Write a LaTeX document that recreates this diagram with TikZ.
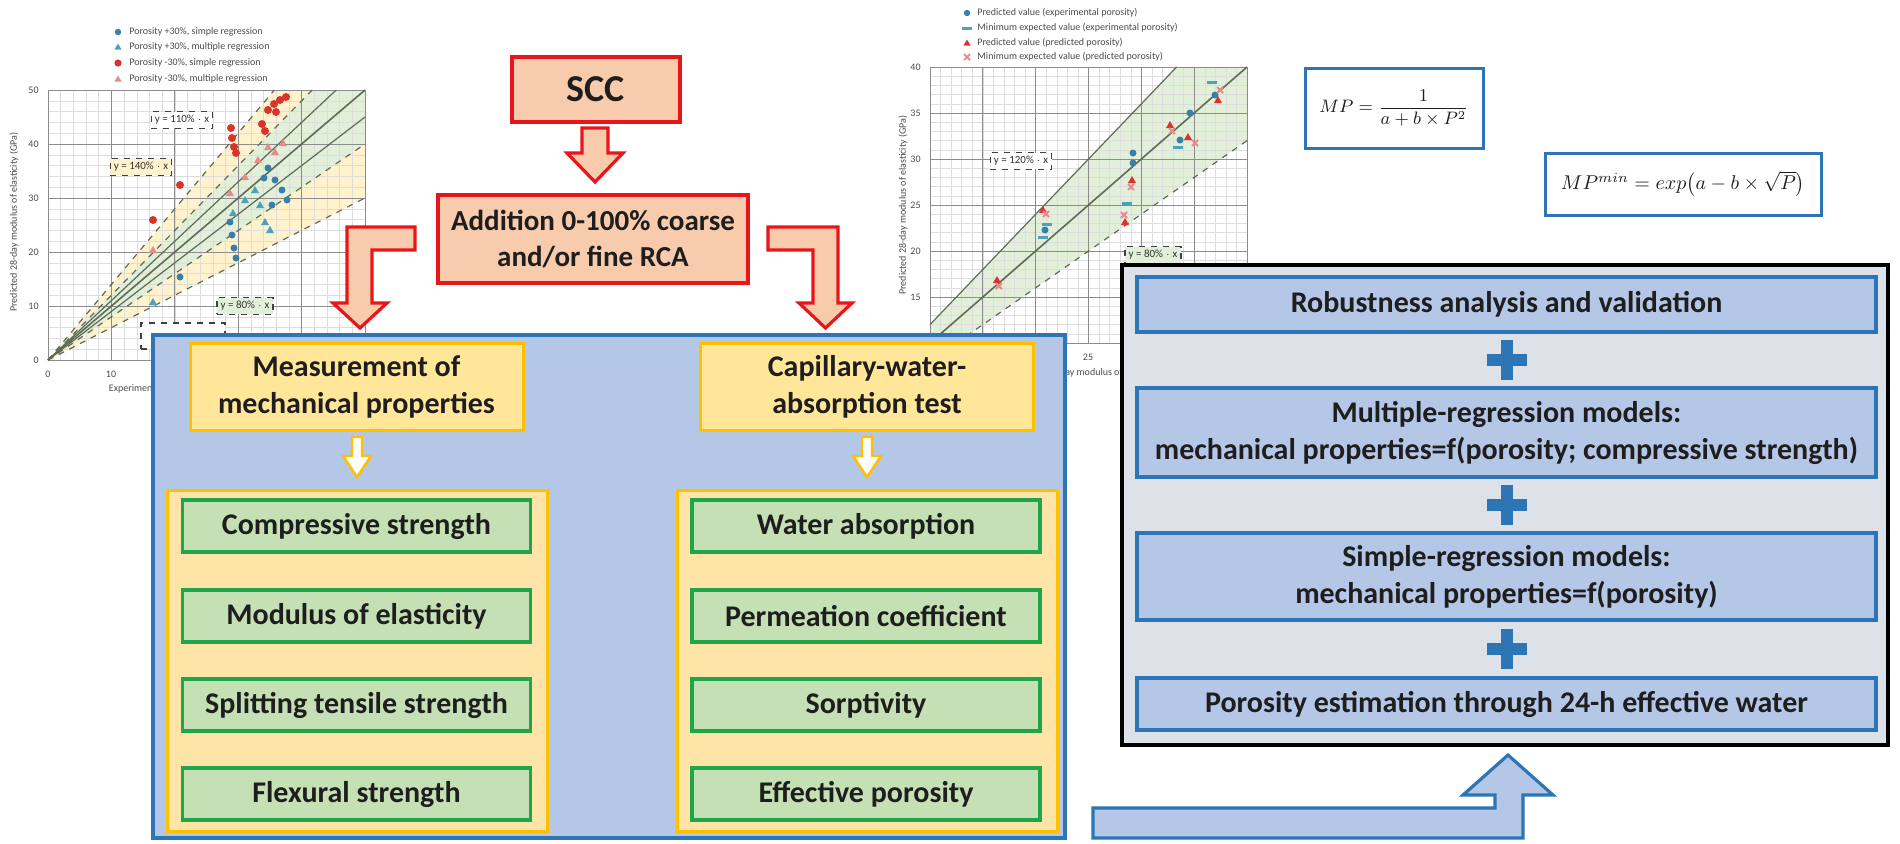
\documentclass[tikz,border=0pt]{standalone}
\usepackage{fontspec}
\usepackage{amsmath}
\setmainfont{Carlito}
\definecolor{rd}{HTML}{E8161B}
\definecolor{salmon}{HTML}{F8CBAD}
\definecolor{pblue}{HTML}{B4C7E7}
\definecolor{bblue}{HTML}{2E75B6}
\definecolor{yfill}{HTML}{FFE699}
\definecolor{ycontc}{HTML}{FFE4A8}
\definecolor{yborder}{HTML}{FFC000}
\definecolor{gfill}{HTML}{C5E0B4}
\definecolor{gborder}{HTML}{1FA64A}
\definecolor{greyp}{HTML}{DDE1E8}
\definecolor{txt}{HTML}{1E1E1E}
\definecolor{gminor}{HTML}{DDDDDD}
\definecolor{gmajor}{HTML}{8C8C8C}
\definecolor{bandy}{HTML}{FFF2CC}
\definecolor{bandg}{HTML}{E2F0D9}
\definecolor{ptblue}{HTML}{3A7FA8}
\definecolor{ptred}{HTML}{D9342B}
\definecolor{ptpink}{HTML}{E88A8A}
\definecolor{ptteal}{HTML}{4BA3B5}
\definecolor{lnc}{HTML}{5E6B55}
\tikzset{
  redbox/.style={draw=rd, fill=salmon, line width=2pt, inner sep=0pt, align=center, text=txt, font=\bfseries\fontsize{14.5}{18}\selectfont},
  bluepanel/.style={draw=bblue, fill=pblue, line width=2pt, inner sep=0pt},
  yhead/.style={draw=yborder, fill=yfill, line width=1.5pt, inner sep=0pt, align=center, text=txt, minimum width=166.5pt, minimum height=43.5pt, font=\bfseries\fontsize{15}{18.5}\selectfont},
  ycont/.style={draw=yborder, fill=ycontc, line width=1.5pt, inner sep=0pt, minimum width=190pt, minimum height=170.5pt},
  gbox/.style={draw=gborder, fill=gfill, line width=1.6pt, inner sep=0pt, text=txt, minimum width=174pt, minimum height=26pt, font=\bfseries\fontsize{15}{18}\selectfont},
  blackpanel/.style={draw=black, fill=greyp, line width=2pt, inner sep=0pt},
  rbox/.style={draw=bblue, fill=pblue, line width=1.8pt, inner sep=0pt, minimum width=369.5pt, align=center, text=txt, font=\bfseries\fontsize{15}{18.5}\selectfont},
  fbox/.style={draw=bblue, fill=white, line width=1.5pt, inner sep=0pt, text=txt},
  blockred/.style={draw=rd, fill=salmon, line width=1.6pt, line join=miter},
  blockyel/.style={draw=yborder, fill=white, line width=1.2pt},
  blockblue/.style={draw=bblue, fill=pblue, line width=1.6pt},
  tiny/.style={font=\fontsize{5}{6}\selectfont, text=black!70, inner sep=0.5pt},
  lbl/.style={draw=black!75, dashed, line width=0.6pt, font=\fontsize{5.5}{6.5}\selectfont, inner sep=1.8pt, text=black!80},
  minorline/.style={gminor, line width=0.25pt},
  majorline/.style={gmajor, line width=0.45pt},
  solidfit/.style={lnc, line width=0.6pt},
  dashfit/.style={lnc, line width=0.6pt, dashed},
}
\begin{document}
\begin{tikzpicture}[x=0.5pt,y=-0.5pt]
\useasboundingbox (0,0) rectangle (1900,843);
\fill[white] (0,0) rectangle (1900,843);

% ================= left chart =================
\fill[bandy] (48,360) -- (274.4,90) -- (365,90) -- (365,198) -- cycle;
\fill[bandg] (48,360) -- (312.2,90) -- (365,90) -- (365,144) -- cycle;
\foreach \i in {0,...,25} {\draw[minorline] ({48+12.68*\i},90) -- ({48+12.68*\i},360);}
\foreach \j in {0,...,25} {\draw[minorline] (48,{90+10.8*\j}) -- (365,{90+10.8*\j});}
\foreach \i in {0,...,5} {\draw[majorline] ({48+63.4*\i},90) -- ({48+63.4*\i},360);}
\foreach \j in {0,...,5} {\draw[majorline] (48,{90+54*\j}) -- (365,{90+54*\j});}
\draw[dashfit] (48,360) -- (274.4,90);
\draw[dashfit] (48,360) -- (312.2,90);
\draw[solidfit] (48,360) -- (336.2,90);
\draw[solidfit, line width=0.8pt] (48,360) -- (365,90);
\draw[solidfit] (48,360) -- (365,117);
\draw[dashfit] (48,360) -- (365,144);
\draw[dashfit] (48,360) -- (365,198);
% points
\foreach \x/\y in {153/220,180/185,232/138,234/147,236/153,231/128,262/124,265/131,268/110,274/104,280/100,286/97,276/112}
  {\fill[ptred] (\x,\y) circle (4);}
\foreach \x/\y in {153/250,230/193,268/147,275/152,283/143,258/160,245/177}
  {\fill[ptpink] (\x,\y) ++(0,-4) -- ++(4,7) -- ++(-8,0) -- cycle;}
\foreach \x/\y in {180/277,230/222,232/235,234/248,236/258,268/168,275/180,282/190,287/200,272/205,264/178}
  {\fill[ptblue] (\x,\y) circle (3.5);}
\foreach \x/\y in {153/302,233/213,255/190,260/205,265/222,270/230,245/200}
  {\fill[ptteal] (\x,\y) ++(0,-4) -- ++(4,7) -- ++(-8,0) -- cycle;}
% labels
\node[lbl, fill=white] (l110) at (182,120) {y = 110\% $\cdot$ x};
\node[lbl, fill=bandy] (l140) at (141,167) {y = 140\% $\cdot$ x};
\node[lbl, fill=bandg] (l80) at (245,306) {y = 80\% $\cdot$ x};
\node[lbl, fill=white, minimum width=42pt, minimum height=13pt] (l60) at (183,336) {};
% ticks and axis titles
\foreach \v/\yy in {50/90,40/144,30/198,20/252,10/306,0/360}
  {\node[tiny, anchor=east] (lt\v) at (40,\yy) {\v};}
\node[tiny] (lx0) at (48,374) {0};
\node[tiny] (lx10) at (111,374) {10};
\node[tiny] (lxt) at (206,389) {Experimental 28-day modulus of elasticity (GPa)};
\node[tiny, rotate=90] (lyt) at (14,222) {Predicted 28-day modulus of elasticity (GPa)};
% legend
\fill[ptblue] (118,32) circle (3.2);
\fill[ptteal] (118,47) ++(0,-3.5) -- ++(3.5,6) -- ++(-7,0) -- cycle;
\fill[ptred] (118,63) circle (3.6);
\fill[ptpink] (118,79) ++(0,-3.5) -- ++(3.5,6) -- ++(-7,0) -- cycle;
\node[tiny, anchor=west] (lg1) at (128,32) {Porosity +30\%, simple regression};
\node[tiny, anchor=west] (lg2) at (128,47) {Porosity +30\%, multiple regression};
\node[tiny, anchor=west] (lg3) at (128,63) {Porosity -30\%, simple regression};
\node[tiny, anchor=west] (lg4) at (128,79) {Porosity -30\%, multiple regression};

% ================= right chart =================
\fill[bandg] (930,324.6) -- (1176.6,67) -- (1247,67) -- (1247,140.6) -- (956.4,343) -- (930,343) -- cycle;
\foreach \i in {0,...,30} {\draw[minorline] ({930+10.567*\i},67) -- ({930+10.567*\i},343);}
\foreach \j in {0,...,30} {\draw[minorline] (930,{67+9.2*\j}) -- (1247,{67+9.2*\j});}
\foreach \i in {0,...,6} {\draw[majorline] ({930+52.83*\i},67) -- ({930+52.83*\i},343);}
\foreach \j in {0,...,6} {\draw[majorline] (930,{67+46*\j}) -- (1247,{67+46*\j});}
\draw[solidfit] (930,324.6) -- (1176.6,67);
\draw[solidfit, line width=0.8pt] (930,343) -- (1247,67);
\draw[dashfit] (956.4,343) -- (1247,140.6);
\foreach \x/\y in {1045/230,1133/153,1133/163,1190/113,1180/140,1215/95}
  {\fill[ptblue] (\x,\y) circle (3.5);}
\foreach \x/\y in {1043/237,1127/203,1178/147,1047/224,1212/82}
  {\fill[ptteal] (\x-5,\y-1.5) rectangle (\x+5,\y+1.5);}
\foreach \x/\y in {997/280,1043/210,1132/180,1125/222,1170/125,1188/137,1218/100}
  {\fill[ptred] (\x,\y) ++(0,-4) -- ++(4,7) -- ++(-8,0) -- cycle;}
\foreach \x/\y in {999/286,1046/214,1131/187,1172/131,1195/143,1220/90,1124/215}
  {\draw[ptpink, line width=1pt] (\x-3,\y-3) -- (\x+3,\y+3) (\x-3,\y+3) -- (\x+3,\y-3);}
\node[lbl, fill=white] (r120) at (1021,161) {y = 120\% $\cdot$ x};
\node[lbl, fill=bandg] (r80) at (1153,255) {y = 80\% $\cdot$ x};
\foreach \v/\yy in {40/67,35/113,30/159,25/205,20/251,15/297}
  {\node[tiny, anchor=east] (rt\v) at (922,\yy) {\v};}
\node[tiny] (rx25) at (1088,357) {25};
\node[tiny] (rxt) at (1088,373) {Experimental 28-day modulus of elasticity (GPa)};
\node[tiny, rotate=90] (ryt) at (903,205) {Predicted 28-day modulus of elasticity (GPa)};
\fill[ptblue] (967,13) circle (3.2);
\fill[ptteal] (962,26.5) rectangle (972,29.5);
\fill[ptred] (967,43) ++(0,-3.5) -- ++(3.5,6) -- ++(-7,0) -- cycle;
\draw[ptpink, line width=0.9pt] (964,54) -- (970,60) (964,60) -- (970,54);
\node[tiny, anchor=west] (rg1) at (976,13) {Predicted value (experimental porosity)};
\node[tiny, anchor=west] (rg2) at (976,28) {Minimum expected value (experimental porosity)};
\node[tiny, anchor=west] (rg3) at (976,43) {Predicted value (predicted porosity)};
\node[tiny, anchor=west] (rg4) at (976,57) {Minimum expected value (predicted porosity)};

% ================= formulas =================
\node[fbox, minimum width=89pt, minimum height=40pt, font=\fontsize{9}{11}\selectfont] (fm1) at (1394,108) {$MP=\dfrac{1}{a+b\times P^{2}}$};
\node[fbox, minimum width=138pt, minimum height=31pt, font=\fontsize{10}{12}\selectfont] (fm2) at (1683,184) {$MP^{min}=exp\bigl(a-b\times\sqrt{P}\bigr)$};

% ================= red flow =================
\node[redbox, minimum width=84pt, minimum height=32.5pt, font=\bfseries\fontsize{19}{22}\selectfont] (scc) at (596,89.5) {SCC};
\node[redbox, minimum width=155pt, minimum height=44pt] (add) at (593,239) {Addition 0-100\% coarse\\and/or fine RCA};
\draw[blockred] (582,128) -- (608,128) -- (608,153) -- (623,153) -- (595,182) -- (567,153) -- (582,153) -- cycle;
\draw[blockred] (415,227) -- (347,227) -- (347,303) -- (333,303) -- (360,328) -- (387,303) -- (372,303) -- (372,250) -- (415,250) -- cycle;
\draw[blockred] (768,227) -- (838,227) -- (838,303) -- (852,303) -- (825.5,328) -- (799,303) -- (813,303) -- (813,250) -- (768,250) -- cycle;

% ================= blue panel =================
\node[bluepanel, minimum width=456pt, minimum height=251.5pt] (panel) at (609,586.5) {};
\node[yhead] (lhead) at (356.5,386.5) {Measurement of\\mechanical properties};
\node[yhead] (rhead) at (867,386.5) {Capillary-water-\\absorption test};
\draw[blockyel] (352,437) -- (362,437) -- (362,456) -- (371,456) -- (357,477) -- (343,456) -- (352,456) -- cycle;
\draw[blockyel] (862,437) -- (872,437) -- (872,456) -- (881,456) -- (867,477) -- (853,456) -- (862,456) -- cycle;
\node[ycont] (lcont) at (357.5,660.5) {};
\node[ycont] (rcont) at (867.5,660.5) {};
\node[gbox] (g1) at (356.5,526) {Compressive strength};
\node[gbox] (g2) at (356.5,616) {Modulus of elasticity};
\node[gbox] (g3) at (356.5,705) {Splitting tensile strength};
\node[gbox] (g4) at (356.5,794) {Flexural strength};
\node[gbox] (h1) at (866,526) {Water absorption};
\node[gbox] (h2) at (866,616) {Permeation coefficient};
\node[gbox] (h3) at (866,705) {Sorptivity};
\node[gbox] (h4) at (866,794) {Effective porosity};

% ================= black panel =================
\node[blackpanel, minimum width=383pt, minimum height=240pt] (bpanel) at (1505,505) {};
\node[rbox, minimum height=27.5pt] (rob) at (1506.5,304.5) {Robustness analysis and validation};
\node[rbox, minimum height=44.5pt] (mult) at (1506.5,432.5) {Multiple-regression models:\\mechanical properties=f(porosity; compressive strength)};
\node[rbox, minimum height=43.5pt] (simp) at (1506.5,576.5) {Simple-regression models:\\mechanical properties=f(porosity)};
\node[rbox, minimum height=26pt] (poro) at (1506.5,704) {Porosity estimation through 24-h effective water};
\foreach \cy in {360,505,649} {
  \fill[bblue] (1500.5,\cy-20) rectangle (1512.5,\cy+20);
  \fill[bblue] (1486.5,\cy-6) rectangle (1526.5,\cy+6);
}

% ================= bottom arrow =================
\draw[blockblue] (1093,808) -- (1495,808) -- (1495,795) -- (1463,795) -- (1508,755) -- (1553,795) -- (1523,795) -- (1523,838) -- (1093,838) -- cycle;
\end{tikzpicture}
\end{document}
